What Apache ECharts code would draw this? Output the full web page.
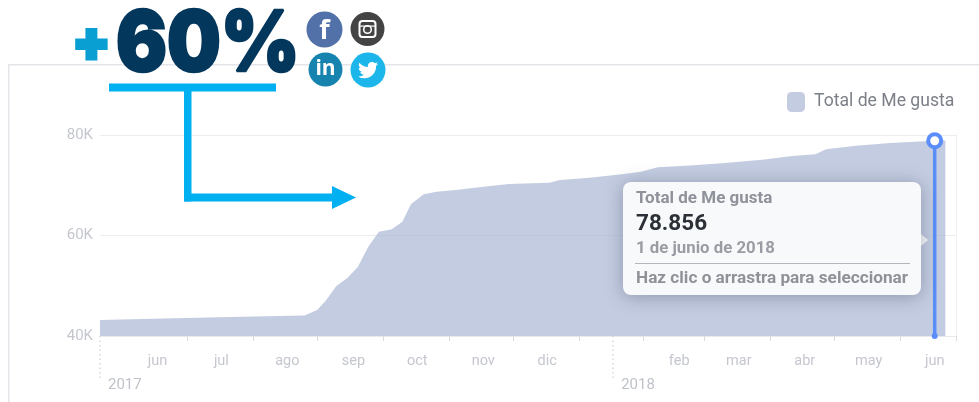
<!DOCTYPE html>
<html><head><meta charset="utf-8">
<style>html,body{margin:0;padding:0;background:#fff}#c{width:979px;height:402px}</style>
<script src="https://cdn.jsdelivr.net/npm/echarts@6/dist/echarts.min.js"></script>
</head><body><div id="c"></div>
<script>
const seriesName = 'Total de Me gusta';
const dates = ['2017-05-05','2017-05-30','2017-07-05','2017-08-09','2017-08-15','2017-08-19','2017-08-24','2017-08-29','2017-09-03','2017-09-08','2017-09-13','2017-09-19','2017-09-24','2017-09-28','2017-10-04','2017-10-10','2017-10-19','2017-10-30','2017-11-13','2017-12-02','2017-12-07','2017-12-21','2018-01-06','2018-01-14','2018-01-22','2018-02-06','2018-02-21','2018-03-12','2018-03-26','2018-04-06','2018-04-11','2018-04-25','2018-05-11','2018-06-01','2018-06-06'];
const likes = [43180,43440,43780,44060,45170,47020,49950,51480,53670,57780,60760,61230,62750,66200,68190,68720,69050,69590,70250,70500,71040,71500,72240,72700,73570,73930,74370,75080,75820,76160,77160,77870,78410,78856,78920];
const monthDates = ['2017-06-01','2017-07-01','2017-08-01','2017-09-01','2017-10-01','2017-11-01','2017-12-01','2018-02-01','2018-03-01','2018-04-01','2018-05-01','2018-06-01'];
const monthLabels = ['jun','jul','ago','sep','oct','nov','dic','feb','mar','abr','may','jun'];
const tickDates = ['2017-06-15','2017-07-16','2017-08-15','2017-09-15','2017-10-16','2017-11-15','2017-12-16','2018-01-15','2018-02-13','2018-03-16','2018-04-15','2018-05-16','2018-06-11'];
const yearDates = ['2017-05-05','2018-01-01'];
const yearLabels = ['2017','2018'];
const axisMin = '2017-05-05', axisMax = '2018-06-11';
const yTicks = [40000,60000,80000];
const focusDate = '2018-06-01', focusValue = 78856;
const tipLines = ['Total de Me gusta','78.856','1 de junio de 2018','Haz clic o arrastra para seleccionar'];

const ts = s => { const [y,m,d] = s.split('-').map(Number); return Date.UTC(y,m-1,d); };
const CY = '#00b0f0', NAVY = '#03375c', BLUE = '#5b8dfb', FONT = 'Roboto, sans-serif';
const twitterPath = 'M23.953 4.57 a10 10 0 0 1 -2.825 .775 a4.958 4.958 0 0 0 2.163 -2.723 c-.951 .555 -2.005 .959 -3.127 1.184 a4.92 4.92 0 0 0 -8.384 4.482 C7.69 8.095 4.067 6.13 1.64 3.162 a4.822 4.822 0 0 0 -.666 2.475 c0 1.71 .87 3.213 2.188 4.096 a4.904 4.904 0 0 1 -2.228 -.616 v.06 a4.923 4.923 0 0 0 3.946 4.827 a4.996 4.996 0 0 1 -2.212 .085 a4.936 4.936 0 0 0 4.604 3.417 a9.867 9.867 0 0 1 -6.102 2.105 c-.39 0 -.779 -.023 -1.17 -.067 a13.995 13.995 0 0 0 7.557 2.209 c9.053 0 13.998 -7.496 13.998 -13.985 c0 -.21 0 -.42 -.015 -.63 A9.935 9.935 0 0 0 24 4.59 z';
echarts.graphic.registerShape('bird', echarts.graphic.extendPath(twitterPath, {}));
const chart = echarts.init(document.getElementById('c'), null, {renderer:'canvas'});
const txt = (x,y,text,size,weight,fill,extra) => ({type:'text',z:200,x,y,style:Object.assign({text,font:`${weight} ${size}px ${FONT}`,fill,verticalAlign:'middle'},extra||{})});
const rect = (x,y,w,h,fill,r,z,extra) => ({type:'rect',z:z===undefined?150:z,shape:{x,y,width:w,height:h,r:r||0},style:Object.assign({fill},extra||{})});
const circ = (cx,cy,r,fill) => ({type:'circle',z:150,shape:{cx,cy,r},style:{fill}});

const graphics = [
  rect(8,64,971,1.5,'#e4e5e9',0,-5),
  rect(8,64,1.5,338,'#e4e5e9',0,-5),
  txt(91.5,44,'+',50,900,'#0a9fd3',{font:`900 56px Inter, ${FONT}`,align:'center',stroke:'#0a9fd3',lineWidth:3}),
  Object.assign(txt(116,46,'60%',84,900,NAVY,{font:`900 84px Inter, ${FONT}`,stroke:NAVY,lineWidth:2.5}),{scaleX:0.9}),
  rect(109,83.5,167,8,CY),
  rect(184,88,7.5,113.5,CY),
  rect(184,193.5,150,8,CY),
  {type:'polygon',z:150,shape:{points:[[332,186],[356,197.5],[332,209]]},style:{fill:CY}},
  circ(324.5,29.5,18,'#5271a8'),
  txt(324.5,31,'f',27,700,'#fff',{align:'center',font:'700 27px "Open Sans", sans-serif'}),
  circ(367.5,29,17,'#444444'),
  {type:'rect',z:160,shape:{x:359.5,y:21,width:16,height:16,r:3},style:{fill:'none',stroke:'#fff',lineWidth:2}},
  {type:'circle',z:160,shape:{cx:367.5,cy:29.5,r:3.8},style:{fill:'none',stroke:'#fff',lineWidth:1.6}},
  rect(360,25.5,15,1.2,'#fff',0,160),
  circ(325.5,69.5,17,'#1784b0'),
  txt(325.5,69.5,'in',21,700,'#fff',{align:'center',font:'700 21px "Open Sans", sans-serif'}),
  circ(368,70,17.5,'#1cb6ea'),
  {type:'bird',z:160,x:358,y:60,scaleX:0.84,scaleY:0.84,style:{fill:'#fff'}},
  {type:'polygon',z:190,shape:{points:[[921,234],[928,240],[921,246]]},style:{fill:'#f8f9fb'}},
  rect(623,182,298,113,'#f8f9fb',8,190,{shadowBlur:18,shadowColor:'rgba(40,50,80,0.35)',shadowOffsetY:2}),
  txt(636,199,tipLines[0],17,700,'#8f929a',{font:`700 17px ${FONT}`}),
  txt(636,224,tipLines[1],22.5,700,'#2b2f36',{font:`700 22.5px ${FONT}`}),
  txt(636,249,tipLines[2],16.8,700,'#999ca3',{font:`700 16.8px ${FONT}`}),
  rect(635,263,275,1,'#b4b6bd',0,195),
  txt(636,279,tipLines[3],17.2,700,'#8e9198',{font:`700 17.2px ${FONT}`})
];

chart.setOption({
  animation:false,
  textStyle:{fontFamily:FONT},
  legend:{data:[seriesName],left:782,top:87,itemWidth:18,itemHeight:20,itemGap:9,icon:'roundRect',
    textStyle:{color:'#7b7f87',fontSize:17.6,fontFamily:FONT,padding:[1,0,0,4]},itemStyle:{color:'#c3cce0'}},
  grid:{left:100,right:23,top:135,bottom:66,containLabel:false},
  xAxis:[
    {type:'value',scale:true,min:ts(axisMin),max:ts(axisMax),position:'bottom',
     axisLine:{show:true,onZero:false,lineStyle:{color:'#e9eaee'}},
     axisTick:{show:true,length:5,customValues:tickDates.map(ts),lineStyle:{color:'#d9dbe0'}},
     axisLabel:{show:true,margin:18,fontSize:14.5,color:'#c4c7ce',hideOverlap:false,
       customValues:monthDates.map(ts),
       formatter:v=>monthLabels[monthDates.map(ts).indexOf(v)]||''},
     splitLine:{show:false}},
    {type:'value',scale:true,min:ts(axisMin),max:ts(axisMax),position:'bottom',
     axisLine:{show:false,onZero:false},
     axisTick:{show:true,length:42,customValues:yearDates.map(ts),lineStyle:{color:'#d5d7dc',type:[1.5,3],width:1.5}},
     axisLabel:{show:true,margin:42,fontSize:15,color:'#bfc2c9',align:'left',padding:[0,0,0,8],hideOverlap:false,
       customValues:yearDates.map(ts),
       formatter:v=>yearLabels[yearDates.map(ts).indexOf(v)]||''},
     splitLine:{show:false}}
  ],
  yAxis:[
    {type:'value',min:40000,max:80000,interval:20000,
     axisLine:{show:false},axisTick:{show:false},
     axisLabel:{margin:7,fontSize:15,color:'#c4c7ce',formatter:v=>yTicks.includes(v)?(v/1000)+'K':''},
     splitLine:{lineStyle:{color:'#ecedf0',width:1}}},
    {type:'value',min:40000,max:80000,interval:20000,position:'right',
     axisLine:{show:true,lineStyle:{color:'#eeeff2'}},axisTick:{show:false},axisLabel:{show:false},splitLine:{show:false}}
  ],
  series:[
    {name:seriesName,type:'line',xAxisIndex:0,yAxisIndex:0,showSymbol:false,symbol:'none',
     lineStyle:{width:0},itemStyle:{color:'#c3cce0'},
     areaStyle:{color:'rgb(175,187,214)',opacity:0.75},
     data:dates.map((d,i)=>[ts(d),likes[i]])},
    {name:'focus',type:'line',xAxisIndex:0,yAxisIndex:0,showSymbol:true,symbol:'circle',z:10,
     lineStyle:{color:BLUE,width:3.5},
     data:[
       {value:[ts(focusDate),40000],symbolSize:6,itemStyle:{color:BLUE,borderWidth:0}},
       {value:[ts(focusDate),focusValue],symbolSize:13,itemStyle:{color:'#fff',borderColor:BLUE,borderWidth:4}}
     ]}
  ],
  graphic:{elements:graphics}
});
</script></body></html>
